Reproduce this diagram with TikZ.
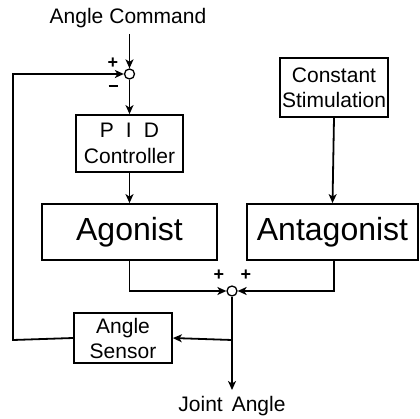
\documentclass[tikz,border=0pt]{standalone}
\usepackage{fontspec}
\setmainfont{Liberation Sans}
\usetikzlibrary{arrows.meta,calc}
\begin{document}
\begin{tikzpicture}[x=1pt,y=-1pt,line width=1.8pt,
  blk/.style={draw,rectangle,inner sep=0pt,align=center},
  sumj/.style={draw,circle,minimum size=10pt,inner sep=0pt,line width=1.3pt},
  lbl/.style={font=\fontsize{21}{24}\selectfont,inner sep=0pt},
  big/.style={font=\fontsize{32}{36}\selectfont},
  sml/.style={font=\fontsize{21}{25}\selectfont},
  sgn/.style={font=\fontsize{18}{18}\selectfont\bfseries,inner sep=0pt},
  arr/.style={-{Stealth[length=9pt,width=8pt,inset=2.5pt]}}]
\useasboundingbox (0,0) rectangle (420,419);
\node[lbl] (cmd) at (128,18) {Angle\hspace{6pt}Command};
\node[sumj] (s1) at (129.5,74) {};
\node[blk,sml,minimum width=107pt,minimum height=57pt] (pid) at (129.5,143.5) {P\hspace{12pt}I\hspace{12pt}D\\[1pt]Controller};
\node[blk,big,minimum width=175pt,minimum height=56pt] (ago) at (129.5,232) {Agonist};
\node[blk,big,minimum width=171pt,minimum height=56pt] (ant) at (332.5,232) {Antagonist};
\node[blk,sml,minimum width=108pt,minimum height=59pt] (cst) at (334,87.5) {Constant\\Stimulation};
\node[sumj] (s2) at (232,291) {};
\node[blk,sml,minimum width=98pt,minimum height=50pt] (sen) at (123,338) {Angle\\Sensor};
\node[lbl] (ja) at (232,406) {Joint\hspace{9pt}Angle};
\coordinate (cmdtop) at (129.5,34);
\coordinate (fbl) at (13,340);
\coordinate (fbt) at (13,74);
\coordinate (br) at (232,340);
\coordinate (out) at (232,390);
\node[sgn] (p1) at (113,63) {+};
\node[sgn] (m1) at (113,86) {\rule{9pt}{2.6pt}};
\node[sgn] (p2) at (219,275) {+};
\node[sgn] (p3) at (246,275) {+};
\draw[arr] (cmdtop) -- (s1.north);
\draw[arr] (s1.south) -- (pid.north);
\draw[arr] (pid.south) -- (ago.north);
\draw[arr] (cst.south) -- (ant.north);
\draw[arr] (ago.south) |- (s2.west);
\draw[arr] ([xshift=1.5pt]ant.south) |- (s2.east);
\draw[arr] (s2.south) -- (out);
\draw[arr] (br) -- (sen.east);
\draw[arr] (sen.west) -- (fbl) -- (fbt) -- (s1.west);
\end{tikzpicture}
\end{document}
